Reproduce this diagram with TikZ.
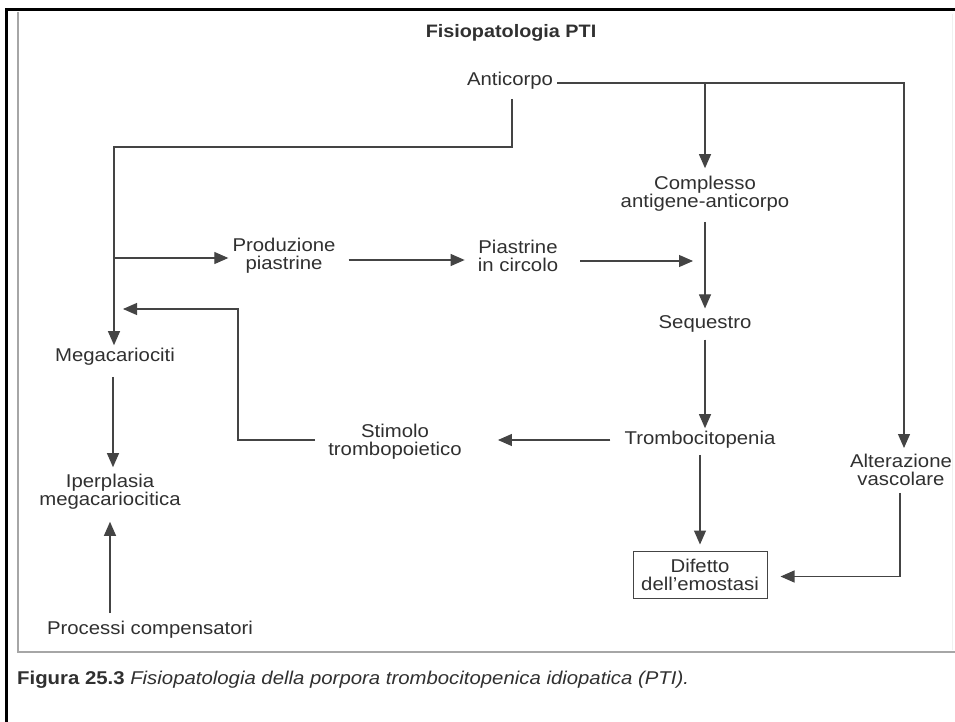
\documentclass[tikz,border=0pt]{standalone}
\usepackage{fontspec}
\setmainfont{Liberation Sans}[FakeStretch=1.1]
\usetikzlibrary{arrows.meta,calc}
\definecolor{ink}{HTML}{303030}
\definecolor{wire}{HTML}{444444}
\begin{document}
\begin{tikzpicture}[x=1pt,y=-1pt,
  txt/.style={font=\fontsize{18.5}{18}\selectfont, text=ink, align=center, inner sep=0pt},
  ln/.style={draw=wire, line width=1.1pt},
  arr/.style={ln, -{Triangle[length=14pt,width=12pt]}},
  boxed/.style={txt, draw=wire, line width=1pt, minimum width=134pt, minimum height=47pt}
]
\fill[white] (0,0) rectangle (955,722);
\useasboundingbox (0,0) rectangle (955,722);
% frames
\draw[gray!70, line width=1.2pt] (18,12) -- (18,652) -- (955,652);
\draw[gray!12, line width=1pt] (952,14) -- (952,650);
\draw[black, line width=3pt] (6,722) -- (6,10) -- (955,10);

% nodes
\node[txt, font=\bfseries\fontsize{18}{20}\selectfont] (title) at (511,33) {Fisiopatologia PTI};
\node[txt] (anti) at (510,81) {Anticorpo};
\node[txt] (comp) at (705,194) {Complesso\\antigene-anticorpo};
\node[txt] (prod) at (284,256) {Produzione\\piastrine};
\node[txt] (piast) at (518,256) {Piastrine\\in circolo};
\node[txt] (seq) at (705,324) {Sequestro};
\node[txt] (trombo) at (700,440) {Trombocitopenia};
\node[txt] (stim) at (395,442) {Stimolo\\trombopoietico};
\node[txt] (alt) at (901,470) {Alterazione\\vascolare};
\node[txt] (mega) at (115,357) {Megacariociti};
\node[txt] (iper) at (110,492) {Iperplasia\\megacariocitica};
\node[txt] (proc) at (150,630) {Processi compensatori};
\node[boxed] (dif) at (700,574.5) {Difetto\\dell'emostasi};
\node[txt, anchor=west, font=\fontsize{18.5}{20}\selectfont] (cap) at (17,680)
  {\textbf{Figura 25.3} \textit{Fisiopatologia della porpora trombocitopenica idiopatica (PTI).}};

% junctions
\coordinate (jl) at (114,147);
\coordinate (jf) at (238,309);

% connectors
\draw[arr, shorten >=6pt] ([xshift=4pt,yshift=-2pt]anti.east) -| ([xshift=3pt]alt.north);
\draw[arr, shorten >=8pt] ([yshift=-2pt]anti.east -| comp.north) -- (comp.north);
\draw[arr, shorten >=3pt] ([xshift=2pt,yshift=-9pt]anti.south) |- (jl) -- (jl |- mega.north);
\draw[arr, shorten >=4pt] ([yshift=-2pt]jl |- prod.west) -- ([yshift=-2pt]prod.west);
\draw[arr, shorten <=13pt, shorten >=13pt] ([yshift=-4pt]prod.east) -- ([yshift=-4pt]piast.west);
\draw[arr, shorten <=22pt, shorten >=12pt] ([yshift=-5pt]piast.east) -- ([yshift=-5pt]piast.east -| comp.south);
\draw[arr, shorten <=10pt, shorten >=7pt] (comp.south) -- (comp.south |- seq.north);
\draw[arr, shorten <=7pt, shorten >=3pt] (seq.south) -- (seq.south |- trombo.north);
\draw[arr, shorten <=14pt, shorten >=36pt] (trombo.west) -- (trombo.west -| stim.east);
\draw[arr, shorten >=9pt] ([xshift=-13pt,yshift=2pt]stim.west) -| (jf) -- (jf -| jl);
\draw[arr, shorten <=6pt, shorten >=6pt] (trombo.south) -- (trombo.south |- dif.north);
\draw[arr, shorten <=7pt, shorten >=13pt] ([xshift=-1pt]alt.south) |- ([yshift=-2pt]dif.east);
\draw[arr, shorten <=11pt, shorten >=7pt] ([xshift=-2pt]mega.south) -- ([xshift=-2pt]mega.south |- iper.north);
\draw[arr, shorten <=8pt, shorten >=12pt] (iper.south |- proc.north) -- (iper.south);
\end{tikzpicture}
\end{document}
